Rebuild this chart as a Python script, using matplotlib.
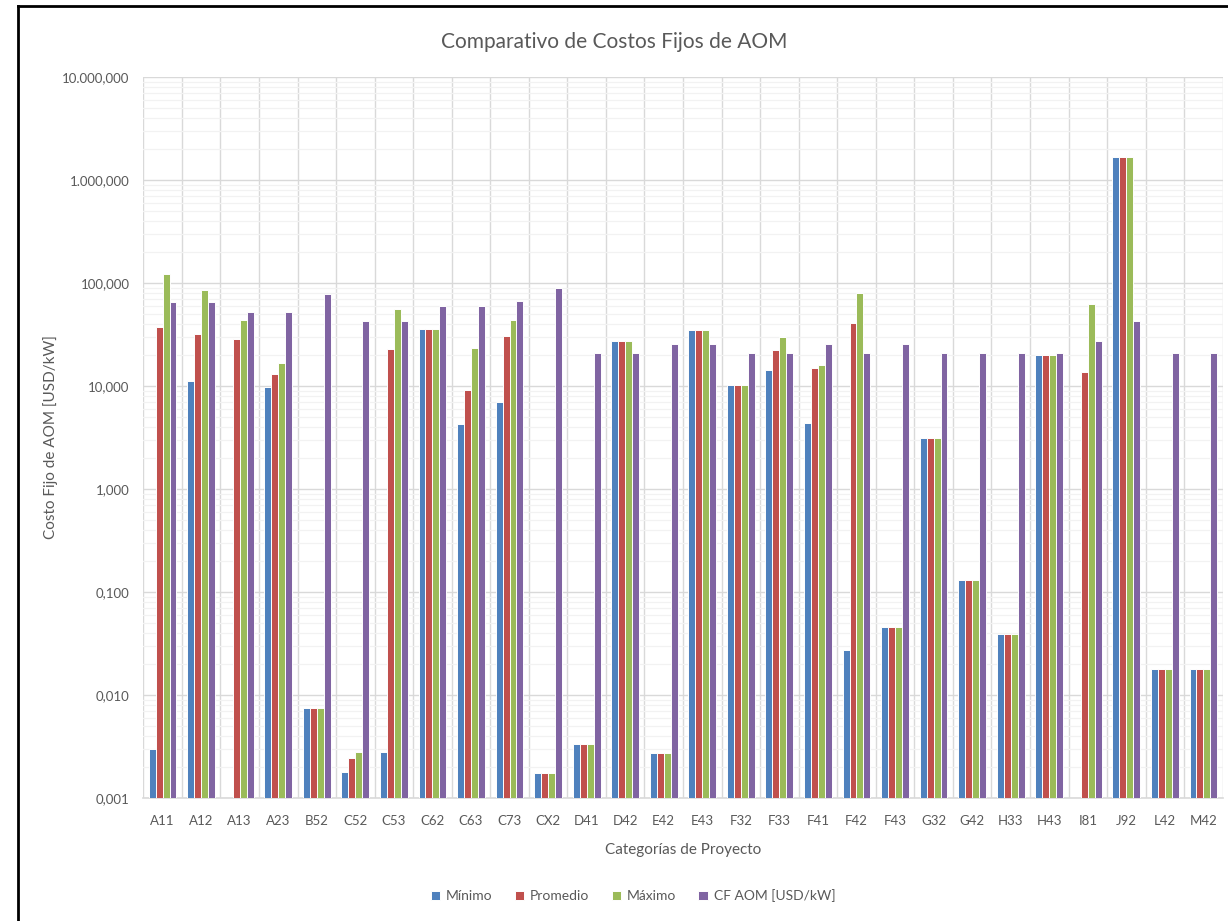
import numpy as np
import matplotlib
matplotlib.use('Agg')
import matplotlib.pyplot as plt
from matplotlib.ticker import FixedLocator, FuncFormatter, LogLocator, NullFormatter
from matplotlib.lines import Line2D

plt.rcParams['font.family'] = ['Lato', 'DejaVu Sans']

nan = np.nan

categorias = ['A11', 'A12', 'A13', 'A23', 'B52', 'C52', 'C53', 'C62', 'C63', 'C73',
              'CX2', 'D41', 'D42', 'E42', 'E43', 'F32', 'F33', 'F41', 'F42', 'F43',
              'G32', 'G42', 'H33', 'H43', 'I81', 'J92', 'L42', 'M42']

minimo = [0.0030, 11.1, nan, 9.8, 0.0074, 0.00179, 0.00277, 35.7, 4.25, 7.05,
          0.00176, 0.00332, 27.3, 0.00275, 35.0, 10.3, 14.3, 4.34, 0.0274, 0.0454,
          3.15, 0.131, 0.0391, 19.9, nan, 1683, 0.0179, 0.0179]
promedio = [37, 32, 28.6, 13.1, 0.0074, 0.00245, 22.9, 35.7, 9.08, 30.6,
            0.00176, 0.00332, 27.3, 0.00275, 35.0, 10.3, 22.4, 14.9, 41.2, 0.0454,
            3.15, 0.131, 0.0391, 19.9, 13.7, 1683, 0.0179, 0.0179]
maximo = [122, 85.5, 43.7, 16.6, 0.0074, 0.00277, 55.5, 35.7, 23.4, 43.4,
          0.00176, 0.00332, 27.3, 0.00275, 35.0, 10.3, 30.1, 16.1, 79.4, 0.0454,
          3.15, 0.131, 0.0391, 19.9, 63, 1683, 0.0179, 0.0179]
cf_aom = [66, 66, 51.9, 51.9, 79, 42.8, 42.8, 59.8, 59.8, 66.4,
          88.8, 20.8, 20.8, 25.7, 25.7, 20.8, 20.8, 25.7, 20.8, 25.7,
          20.8, 20.8, 20.8, 20.8, 27.3, 42.5, 20.8, 20.8]

series = [minimo, promedio, maximo, cf_aom]
nombres = ['Mínimo', 'Promedio', 'Máximo', 'CF AOM [USD/kW]']
colores = ['#4F81BD', '#C0504D', '#9BBB59', '#8064A2']
gris = '#595959'

fig = plt.figure(figsize=(12.28, 9.21), dpi=100)
ax = fig.add_axes([143.3 / 1228, 1 - 798 / 921, (1222.7 - 143.3) / 1228, (798 - 77) / 921])
ax.set_yscale('log')

x = np.arange(len(categorias))
w = 0.18
for j, (vals, nom, col) in enumerate(zip(series, nombres, colores)):
    ax.bar(x + (j - 1.5) * w, vals, width=w, color=col, edgecolor='white',
           linewidth=0.7, label=nom, zorder=3)

ax.set_xlim(-0.5, len(categorias) - 0.5)
ax.set_ylim(0.001, 10000)

ax.set_xticks(x)
ax.set_xticklabels(categorias)
ax.xaxis.set_minor_locator(FixedLocator(np.arange(len(categorias) + 1) - 0.5))
ax.yaxis.set_major_locator(LogLocator(base=10, numticks=20))
ax.yaxis.set_minor_locator(LogLocator(base=10, subs=np.arange(2, 10), numticks=100))
ax.yaxis.set_minor_formatter(NullFormatter())


def fmt_es(v, pos):
    s = '{:,.3f}'.format(v)
    return s.replace(',', '#').replace('.', ',').replace('#', '.')


ax.yaxis.set_major_formatter(FuncFormatter(fmt_es))
ax.tick_params(axis='both', which='both', length=0, colors=gris, labelsize=9.5)
ax.tick_params(axis='x', pad=12)
ax.tick_params(axis='y', pad=10)

ax.grid(axis='y', which='major', color='#D9D9D9', linewidth=1.0, zorder=0)
ax.grid(axis='y', which='minor', color='#F2F2F2', linewidth=0.9, zorder=0)
ax.grid(axis='x', which='minor', color='#D9D9D9', linewidth=1.0, zorder=0)
ax.grid(axis='x', which='major', visible=False)

for s in ['top', 'right', 'left']:
    ax.spines[s].set_visible(False)
ax.spines['bottom'].set_color('#D9D9D9')
ax.spines['bottom'].set_linewidth(1.2)

ax.set_xlabel('Categorías de Proyecto', color=gris, fontsize=11, labelpad=12)
ax.set_ylabel('Costo Fijo de AOM [USD/kW]', color=gris, fontsize=11, labelpad=3)

fig.text(0.5, 1 - 42 / 921, 'Comparativo de Costos Fijos de AOM', ha='center',
         va='center', color=gris, fontsize=15)

fig.legend(loc='center', bbox_to_anchor=(633 / 1228, 1 - 896 / 921), ncol=4,
           frameon=False, fontsize=10, handlelength=0.7, handleheight=0.7,
           handletextpad=0.4, columnspacing=1.6, labelcolor=gris)

# marco negro del documento
fig.add_artist(Line2D([18 / 1228, 18 / 1228], [0, 1 - 6 / 921], color='black', lw=2))
fig.add_artist(Line2D([18 / 1228, 1], [1 - 6 / 921, 1 - 6 / 921], color='black', lw=2))

fig.savefig('out.png', dpi=100)
